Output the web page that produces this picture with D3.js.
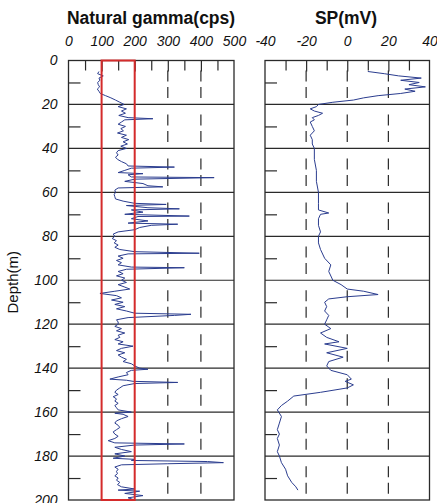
<!DOCTYPE html>
<html><head><meta charset="utf-8">
<script src="https://cdn.jsdelivr.net/npm/d3@7"></script>
<style>
html,body{margin:0;padding:0;background:#fff;}
svg{display:block;font-family:Arial,"Liberation Sans",sans-serif;}
</style></head>
<body>
<div id="chart"></div>
<script>
// ---- data ----
const gammaTitle = "Natural gamma(cps)";
const spTitle = "SP(mV)";
const yTitle = "Depth(m)";
const gammaTicks = [0,100,200,300,400,500];
const spTicks = [-40,-20,0,20,40];
const depthTicks = [0,20,40,60,80,100,120,140,160,180,200];
const redBox = [100,200];

const gammaDepth = [5,6,7,8,9,10,11,12,13,14,15,16,17,18,19,20,21,22,23,24,25,26,26.5,27,28,29,30,31,32,33,34,35,36,37,38,39,40,41,42,43,44,45,46,47,48,48.5,49,50,51,51.5,52,53,53.3,54,55,56,57,57.5,58,59,60,61,62,63,64,65,65.5,66,67,67.5,68,69,70,70.8,71,72,73,74,74.5,75,76,77,78,79,80,81,82,83,84,85,86,87,87.7,88,89,90,91,92,93,94,94.3,95,96,97,98,99,100,101,102,103,104,105,106,107,108,109,110,111,112,113,114,115,115.5,116,117,118,119,120,121,122,123,124,125,126,127,128,129,130,131,132,133,134,135,136,137,138,139,140,140.5,141,142,143,144,145,145.5,146,146.5,147,148,149,150,151,152,153,154,155,156,157,158,159,160,160.5,161,162,163,164,165,166,167,168,169,170,171,172,173,174,174.5,175,176,177,178,179,180,181,181.5,182,182.5,183,183.5,184,185,186,187,188,189,190,191,192,193,194,195,195.5,196,197,198,199,200];
const gammaValue = [92,88,105,92,95,88,90,94,87,92,96,112,128,142,155,168,150,175,160,172,152,180,255,170,160,150,172,158,166,148,175,160,182,165,178,158,175,150,145,150,142,148,160,175,180,320,190,170,150,225,180,190,440,200,170,225,240,285,150,140,142,138,140,142,165,200,295,175,240,335,190,225,170,365,210,190,240,180,330,250,215,200,150,135,140,132,145,138,150,140,155,200,395,180,150,165,145,160,150,190,350,175,150,165,145,170,160,175,150,168,185,140,95,145,160,130,165,140,170,145,175,200,370,320,180,145,150,150,140,160,145,170,150,155,140,165,150,195,160,145,170,150,160,175,165,190,200,215,240,190,175,180,150,125,175,195,330,200,165,155,145,140,150,135,145,140,150,140,145,150,190,140,165,180,160,145,140,150,155,145,135,140,150,140,120,140,350,200,140,160,190,140,170,135,200,190,420,468,300,160,140,150,145,148,140,150,145,155,148,160,200,150,215,170,225,180,200];

const spDepth = [5,6,7,8,9,10,11,12,13,14,15,16,17,18,19,20,21,22,23,24,25,26,27,28,30,32,34,36,38,40,45,50,55,60,65,68,69.4,70,72,75,78,80,83,86,90,93,96,100,102,104,105,106.5,107.5,108.5,110,112,114,116,118,120,122,124,126,128,129,131,133,135,137,139,141,143,145,146,147.6,149,151,152.7,155,157,159,162,165,168,170,172,175,178,180,183,186,189,192,194,195.5];
const spValue = [10,18,25,36,26,35,30,38,28,33,26,15,8,3,-7,-14,-15,-18,-16,-12,-14,-17,-16,-18,-17,-16,-18,-17,-17,-16,-16,-15,-15,-14,-14,-14,-9,-13,-14,-14,-13,-14,-14,-13,-11,-8,-9,-7,-3,0,8,15,0,-9,-11,-10,-11,-9,-10,-11,-8,-13,-10,-4,-11,0,-10,-2,-9,-10,-8,0,2,-1,3,0,-13,-26,-29,-32,-34,-32,-33,-34,-33,-34,-33,-34,-33,-32,-30,-29,-27,-25,-24];

// ---- layout ----
const W = 437, H = 503;
const topY = 60.5, bottomY = 500;
const svg = d3.select("#chart").append("svg").attr("width", W).attr("height", H);

const y = d3.scaleLinear().domain([0,200]).range([topY, bottomY]);
const xG = d3.scaleLinear().domain([0,500]).range([68.5, 234]);
const xS = d3.scaleLinear().domain([-40,40]).range([265, 429.5]);

const frameColor = "#2a2a2a";
const curveColor = "#2b3d8f";
const cell = y(20) - y(0);
const fmt = d => String(d);

function panel(x, ticks, minorTicks, dashedVals, title, titleX){
  const g = svg.append("g");
  const [x0,x1] = x.range();
  g.selectAll(".hg").data(depthTicks.slice(1,-1)).join("line")
    .attr("x1", x0).attr("x2", x1).attr("y1", d=>y(d)).attr("y2", d=>y(d))
    .attr("stroke", frameColor).attr("stroke-width", 1.2);
  g.selectAll(".vd").data(dashedVals).join("line")
    .attr("x1", d=>x(d)).attr("x2", d=>x(d)).attr("y1", topY).attr("y2", bottomY)
    .attr("stroke", frameColor).attr("stroke-width", 1.2)
    .attr("stroke-dasharray", `${cell*0.25},${cell*0.125},${cell*0.25},${cell*0.375}`)
    .attr("stroke-dashoffset", cell*0.77);
  const styleTicks = s=>{s.select(".domain").remove(); s.selectAll("line").attr("stroke", frameColor).attr("stroke-width",1.2);};
  const axMaj = d3.axisTop(x).tickValues(ticks.slice(1,-1)).tickSize(-11).tickFormat("");
  g.append("g").attr("transform", `translate(0,${topY})`).call(axMaj).call(styleTicks);
  const axMin = d3.axisTop(x).tickValues(minorTicks).tickSize(-10).tickFormat("");
  g.append("g").attr("transform", `translate(0,${topY})`).call(axMin).call(styleTicks);
  const axL = d3.axisLeft(y).tickValues(d3.range(10,200,20)).tickSize(-12).tickFormat("");
  g.append("g").attr("transform", `translate(${x0},0)`).call(axL).call(styleTicks);
  const axLab = d3.axisTop(x).tickValues(ticks).tickSize(0).tickPadding(15).tickFormat(fmt);
  g.append("g").attr("transform", `translate(0,${topY})`).call(axLab)
    .call(s=>{s.select(".domain").remove();
      s.selectAll("text").attr("font-size", 14).attr("font-style","italic").attr("fill","#111")
        .attr("font-family","Arial,'Liberation Sans',sans-serif");});
  g.append("rect").attr("x", x0).attr("y", topY).attr("width", x1-x0).attr("height", bottomY-topY)
    .attr("fill","none").attr("stroke", frameColor).attr("stroke-width", 1.3);
  svg.append("text").attr("x", titleX).attr("y", 24).attr("text-anchor","middle")
    .attr("font-size", 17.5).attr("font-weight","bold").attr("fill","#111").text(title);
  return g;
}

const gG = panel(xG, gammaTicks, [50,150,250,350,450], [300,400], gammaTitle, 151);
const gS = panel(xS, spTicks, [-30,-10,10,30], [-20,0,20], spTitle, 346);

const axD = d3.axisLeft(y).tickValues(depthTicks).tickSize(0).tickPadding(11).tickFormat(fmt);
svg.append("g").attr("transform", `translate(68.5,0)`).call(axD)
  .call(s=>{s.select(".domain").remove();
    s.selectAll("text").attr("font-size",14).attr("font-style","italic").attr("fill","#111")
      .attr("font-family","Arial,'Liberation Sans',sans-serif");});

svg.append("text").attr("transform", `translate(18,${(y(100)+2)}) rotate(-90)`)
  .attr("text-anchor","middle").attr("font-size",15).attr("fill","#111").text(yTitle);

const gammaData = d3.zip(gammaDepth, gammaValue).map(([d,v])=>({d,v}));
const spData = d3.zip(spDepth, spValue).map(([d,v])=>({d,v}));

gG.append("path").datum(gammaData)
  .attr("d", d3.line().x(p=>xG(p.v)).y(p=>y(p.d)))
  .attr("fill","none").attr("stroke", curveColor).attr("stroke-width", 1);

gS.append("path").datum(spData)
  .attr("d", d3.line().x(p=>xS(p.v)).y(p=>y(p.d)))
  .attr("fill","none").attr("stroke", curveColor).attr("stroke-width", 1);

gG.append("rect").attr("x", xG(redBox[0])).attr("y", y(0))
  .attr("width", xG(redBox[1]) - xG(redBox[0])).attr("height", y(200)-y(0))
  .attr("fill","none").attr("stroke","#d42b2b").attr("stroke-width", 2);
</script>
</body></html>
